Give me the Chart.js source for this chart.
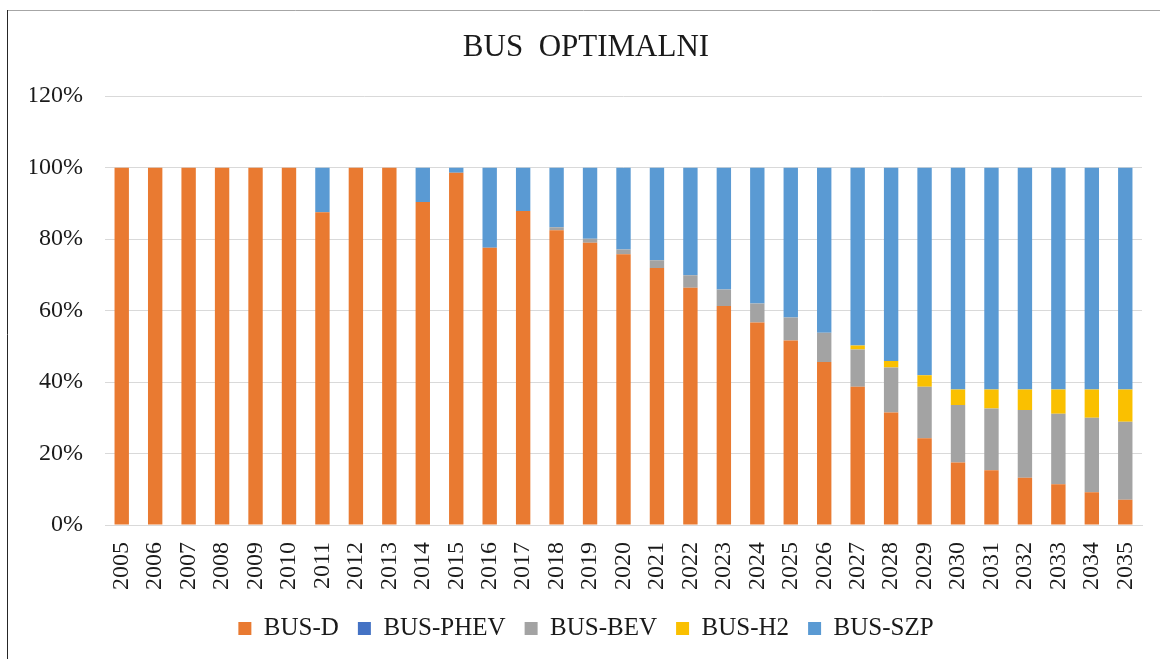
<!DOCTYPE html>
<html>
<head>
<meta charset="utf-8">
<script src="https://cdn.jsdelivr.net/npm/chart.js@4/dist/chart.umd.min.js"></script>
<style>
html,body{margin:0;padding:0;background:#fff;}
#wrap{position:relative;width:1160px;height:659px;}
</style>
</head>
<body>
<div id="wrap"><canvas id="c" width="1160" height="659"></canvas></div>
<script>
const years = ['2005','2006','2007','2008','2009','2010','2011','2012','2013','2014','2015','2016','2017','2018','2019','2020','2021','2022','2023','2024','2025','2026','2027','2028','2029','2030','2031','2032','2033','2034','2035'];
const busD    = [100,100,100,100,100,100,87.5,100,100,90.4,98.6,77.6,87.9,82.5,79.0,75.8,71.9,66.4,61.3,56.7,51.6,45.6,38.7,31.5,24.3,17.5,15.3,13.2,11.4,9.2,7.1];
const busPHEV = [0,0,0,0,0,0,0,0,0,0,0,0,0,0,0,0,0,0,0,0,0,0,0,0,0,0,0,0,0,0,0];
const busBEV  = [0,0,0,0,0,0,0,0,0,0,0,0,0,0.8,1.1,1.3,2.2,3.5,4.6,5.3,6.5,8.2,10.4,12.6,14.4,16.1,17.3,19.0,19.7,20.8,21.8];
const busH2   = [0,0,0,0,0,0,0,0,0,0,0,0,0,0,0,0,0,0,0,0,0,0,1.1,1.8,3.2,4.3,5.3,5.7,6.8,7.9,9.0];
const busSZP  = [0,0,0,0,0,0,12.5,0,0,9.6,1.4,22.4,12.1,16.7,19.9,22.9,25.9,30.1,34.1,38.0,41.9,46.2,49.8,54.1,58.1,62.1,62.1,62.1,62.1,62.1,62.1];
const yTicks = [0,20,40,60,80,100,120];

const FONT = "'Liberation Serif','Times New Roman',serif";

const frame = {
  id:'frame',
  beforeDraw(chart){
    const c = chart.ctx;
    c.save();
    c.fillStyle='#fff';
    c.fillRect(0,0,chart.width,chart.height);
    c.strokeStyle='#a6a6a6';
    c.lineWidth=1;
    c.beginPath(); c.moveTo(7,10.5); c.lineTo(chart.width,10.5); c.stroke();
    c.strokeStyle='#262626';
    c.beginPath(); c.moveTo(7.5,10); c.lineTo(7.5,chart.height); c.stroke();
    c.restore();
  }
};

const mk = (label, data, color) => ({label, data, backgroundColor:color, borderWidth:0, barPercentage:0.43, categoryPercentage:1});

new Chart(document.getElementById('c'), {
  type:'bar',
  data:{
    labels: years,
    datasets:[
      mk('BUS-D', busD, '#E97A31'),
      mk('BUS-PHEV', busPHEV, '#4472C4'),
      mk('BUS-BEV', busBEV, '#A3A3A3'),
      mk('BUS-H2', busH2, '#FAC000'),
      mk('BUS-SZP', busSZP, '#5A9AD3')
    ]
  },
  options:{
    responsive:false,
    animation:false,
    layout:{padding:{left:30,right:18,top:0,bottom:8}},
    plugins:{
      title:{display:true,text:'BUS  OPTIMALNI',color:'#1a1a1a',font:{family:FONT,size:31,weight:'normal'},padding:{top:29,bottom:30}},
      legend:{position:'bottom',labels:{boxWidth:13,boxHeight:13,color:'#1a1a1a',font:{family:FONT,size:25},padding:19}},
      tooltip:{enabled:false}
    },
    scales:{
      x:{
        stacked:true,
        grid:{display:false,drawTicks:false},
        border:{display:true,color:'#d9d9d9',width:1},
        ticks:{color:'#1a1a1a',font:{family:FONT,size:24},minRotation:90,maxRotation:90,padding:17,autoSkip:false},
        afterFit(s){ s.height = 72; s.paddingLeft = 0; s.paddingRight = 0; }
      },
      y:{
        stacked:true,
        min:0,max:120,
        afterBuildTicks(s){ s.ticks = yTicks.map(v=>({value:v})); },
        grid:{color:'#d9d9d9',lineWidth:1,drawTicks:false},
        border:{display:false},
        ticks:{color:'#1a1a1a',font:{family:FONT,size:24},padding:22,callback:v=>v+'%'},
        afterFit(s){ s.width = 75; }
      }
    }
  },
  plugins:[frame]
});
</script>
</body>
</html>
